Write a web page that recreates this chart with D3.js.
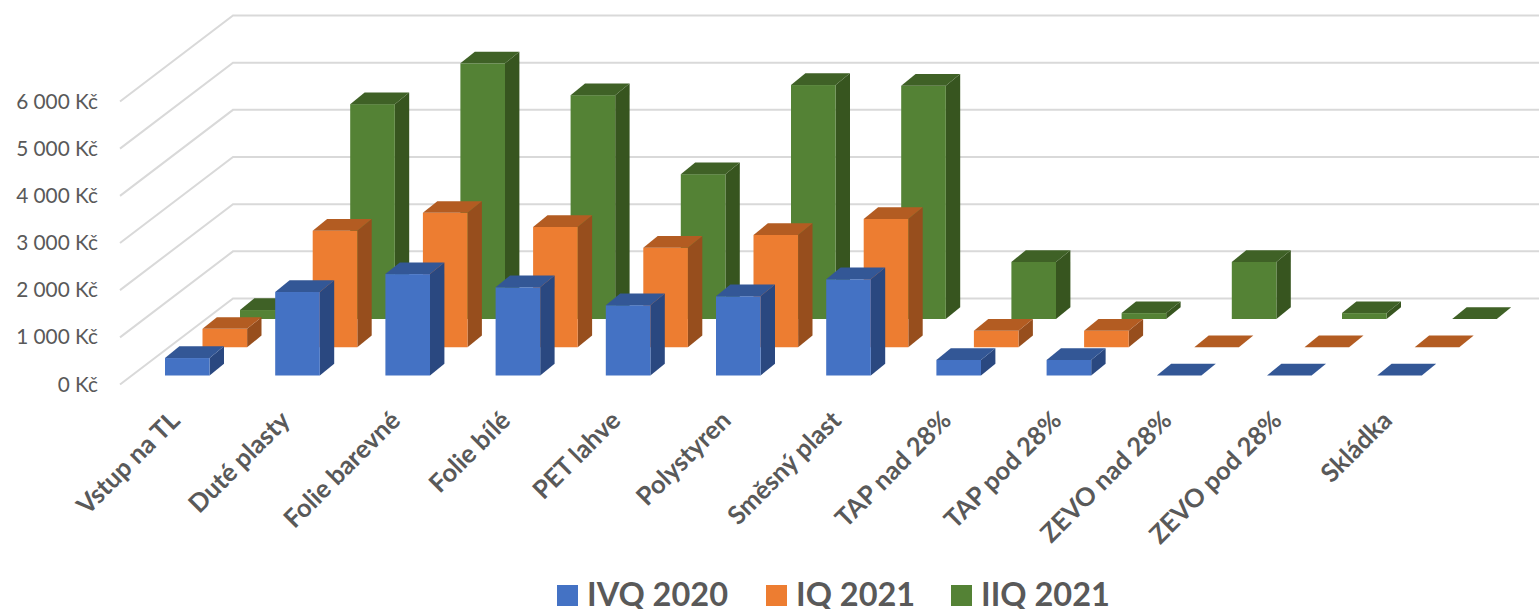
<!DOCTYPE html>
<html lang="cs">
<head>
<meta charset="utf-8">
<title>Ceny za tunu podle druhu odpadu</title>
<script src="https://cdn.jsdelivr.net/npm/d3@7/dist/d3.min.js"></script>
<style>
  html, body { margin: 0; padding: 0; background: #fff; }
  svg { display: block; }
  text { font-family: Lato, "Open Sans", sans-serif; fill: #595959; }
</style>
</head>
<body>
<svg id="chart" width="1539" height="609"></svg>
<script>
// Kategorie a hodnoty v Kč
const categories = ["Vstup na TL", "Duté plasty", "Folie barevné", "Folie bílé", "PET lahve", "Polystyren", "Směsný plast", "TAP nad 28%", "TAP pod 28%", "ZEVO nad 28%", "ZEVO pod 28%", "Skládka"];
const seriesNames = ["IVQ 2020", "IQ 2021", "IIQ 2021"];
const ivq2020 = [370, 1770, 2150, 1870, 1490, 1680, 2040, 330, 330, 0, 0, 0];
const iq2021 = [390, 2470, 2850, 2550, 2110, 2380, 2720, 350, 350, 0, 0, 0];
const iiq2021 = [190, 4555, 5420, 4745, 3070, 4960, 4945, 1210, 125, 1210, 125, 0];
const yTicks = [0, 1000, 2000, 3000, 4000, 5000, 6000];

const faceColors = ["#4472C4", "#ED7D31", "#548235"];
const capColors = ["#335796", "#B35C22", "#3F6126"];
const sideColors = ["#2A4880", "#974E1D", "#37551F"];

const svg = d3.select("#chart");

// Svislá osa měřená na přední hraně podlahy, kategorie podél přední řady
const y = d3.scaleLinear().domain([0, 6000]).range([384.5, 101.5]);
const x = d3.scaleBand().domain(categories).range([120.4, 120.4 + 110.2 * 12]);
const depth = d3.scaleLinear().domain([0, 2]).range([0, 1]);

const barWidth = 44.6;
const barDepthX = 14.4;
const barDepthY = 11.7;
const pxPerUnit = y(0) - y(1);

// Posun řady do hloubky oproti přední řadě
const rowOffsetX = 75;
const rowOffsetY = -56.5;
const frontBase = 375.5;

// Zadní stěna leží 113 px vpravo a 86 px výše než přední okraj osy
const wallX = 113;
const wallY = -86;
const axisX = 120;

const grid = svg.append("g").attr("class", "grid")
  .attr("fill", "none").attr("stroke", "#d9d9d9").attr("stroke-width", 2);
yTicks.forEach(t => {
  grid.append("path").attr("d", d3.line()([
    [axisX, y(t)],
    [axisX + wallX, y(t) + wallY],
    [1539, y(t) + wallY]
  ]));
});

// Popisky svislé osy
const formatKc = v => d3.format(",")(v).replace(/,/g, " ") + " Kč";
svg.append("g").selectAll("text").data(yTicks).join("text")
  .attr("x", 98).attr("y", d => y(d) + 7)
  .attr("text-anchor", "end").attr("font-size", 20.8)
  .text(formatKc);

// Sloupce kreslené odzadu dopředu, aby se správně překrývaly
const allSeries = [ivq2020, iq2021, iiq2021];
[2, 1, 0].forEach(s => {
  const g = svg.append("g").attr("class", "series-" + s);
  const bars = g.selectAll("g").data(categories.map((c, i) => ({ c, v: allSeries[s][i] }))).join("g");
  const left = d => x(d.c) + 44.6 + rowOffsetX * depth(s);
  const base = frontBase + rowOffsetY * depth(s);
  const top = d => base - d.v * pxPerUnit;

  bars.append("path").attr("fill", sideColors[s]).attr("d", d => d3.line()([
    [left(d) + barWidth, base],
    [left(d) + barWidth + barDepthX, base - barDepthY],
    [left(d) + barWidth + barDepthX, top(d) - barDepthY],
    [left(d) + barWidth, top(d)]
  ]) + "Z");
  bars.append("rect").attr("fill", faceColors[s])
    .attr("x", left).attr("y", top)
    .attr("width", barWidth).attr("height", d => base - top(d));
  bars.append("path").attr("fill", capColors[s]).attr("d", d => d3.line()([
    [left(d), top(d)],
    [left(d) + barWidth, top(d)],
    [left(d) + barWidth + barDepthX, top(d) - barDepthY],
    [left(d) + barDepthX, top(d) - barDepthY]
  ]) + "Z");
});

// Popisky kategorií pootočené o 45°
svg.append("g").selectAll("text").data(categories).join("text")
  .attr("text-anchor", "end").attr("font-size", 25.5).attr("font-weight", 700)
  .attr("transform", d => `translate(${x(d) + 61},422) rotate(-45)`)
  .text(d => d);

// Legenda
const legendX = [557, 766, 951];
const legend = svg.append("g").selectAll("g").data(seriesNames).join("g")
  .attr("transform", (d, i) => `translate(${legendX[i]},585)`);
legend.append("rect").attr("width", 21).attr("height", 21).attr("fill", (d, i) => faceColors[i]);
legend.append("text").attr("x", 30).attr("y", 21)
  .attr("font-size", 32.5).attr("font-weight", 700).text(d => d);
</script>
</body>
</html>
